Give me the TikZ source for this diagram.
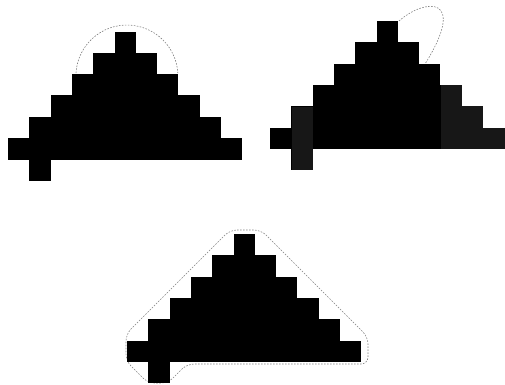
\documentclass[tikz,border=0pt]{standalone}
\newcommand\pyramidcells[2]{%
  \foreach \i in {0,...,5}{%
    \fill[cellfill] ({#1+(5-\i)*21.3},{#2+\i*21.3}) rectangle ({#1+(6+\i)*21.3},{#2+(\i+1)*21.3+0.3});
  }%
  \fill[cellfill] ({#1+21.3},{#2+6*21.3}) rectangle ({#1+2*21.3},{#2+7*21.3});
}
\begin{document}
\begin{tikzpicture}[x=1pt,y=-1pt,
  cellfill/.style={fill=black},
  speckle/.style={fill=black!91},
  hull/.style={draw=black!50,line width=0.6pt,dash pattern=on 1.6pt off 1.4pt}]
\useasboundingbox (0,0) rectangle (505,384);
% ---- figure 1 (top left)
\draw[hull] (76,73) arc[start angle=183.4, end angle=356.6, radius=51];
\pyramidcells{8}{31.5}
% ---- figure 2 (top right)
\draw[hull] (399,21) .. controls (425,-2) and (468,-5) .. (425,64);
\pyramidcells{270}{21}
\fill[speckle] (291.6,106.5) rectangle (312.6,170);
\fill[speckle] (440.6,85) rectangle (461.7,106.4);
\fill[speckle] (440.6,106.4) rectangle (483,127.8);
\fill[speckle] (440.6,127.8) rectangle (505,148.8);
% ---- figure 3 (bottom)
\draw[hull,rounded corners=7pt] (230,230) -- (261,230) -- (368,337) -- (368,364)
  -- (187,364) -- (168,383) -- (148,383) -- (126,361) -- (126,334) -- cycle;
\pyramidcells{127}{234}
\end{tikzpicture}
\end{document}
